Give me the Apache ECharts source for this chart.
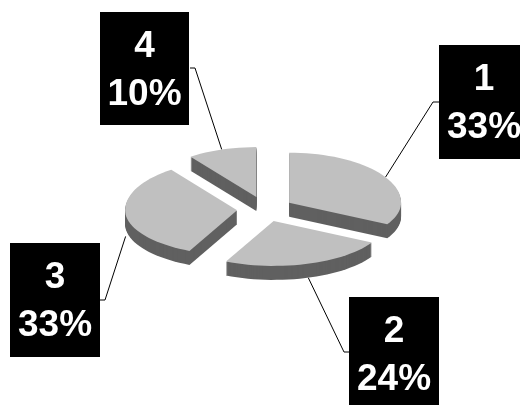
<!DOCTYPE html>
<html>
<head>
<meta charset="utf-8">
<style>html,body{margin:0;padding:0;background:#fff;overflow:hidden}#c{width:520px;height:405px}</style>
<script src="https://cdn.jsdelivr.net/npm/echarts@6/dist/echarts.min.js"></script>
</head>
<body>
<div id="c"></div>
<script>
var categories = ['1', '2', '3', '4'];
var values = [33, 24, 33, 10];

// Pie projection (layout only)
var CX = 265, CY = 209, RX = 112, RY_BACK = 50, RY_FRONT = 45, DEPTH = 14, EXPLODE = 0.25;
// Label boxes: [x, y, w, h]; leader runs from the box side with a short stub
var boxes = [[439, 45, 90, 114], [349, 297, 90, 114], [10, 243, 90, 114], [100, 12, 89, 113]];
var stubs = [[439, 102, 433, 102], [349, 352, 344, 352], [100, 300, 105, 300], [190, 68, 195, 68]];
var leaderExtra = [0, 0, 8, 0];

var total = values.reduce(function (a, b) { return a + b; }, 0);
var starts = [];
values.reduce(function (s, v, i) { starts[i] = s; return s + v; }, 0);

function project(deg, r) {
  var t = deg * Math.PI / 180, c = Math.cos(t);
  return [Math.sin(t) * RX * r, -c * (c < 0 ? RY_FRONT : RY_BACK) * r];
}

function renderItem(params, api) {
  var i = params.dataIndex;
  var v = api.value(0);
  var a0 = starts[i] / total * 360, a1 = a0 + v / total * 360, mid = (a0 + a1) / 2;
  var midT = mid * Math.PI / 180;
  var ox = CX + Math.sin(midT) * RX * EXPLODE;
  var oy = CY - Math.cos(midT) * RY_BACK * EXPLODE;
  var pts = [[ox, oy]];
  var n = Math.max(8, Math.round((a1 - a0) / 3));
  for (var k = 0; k <= n; k++) {
    var p = project(a0 + (a1 - a0) * k / n, 1);
    pts.push([ox + p[0], oy + p[1]]);
  }
  var children = [];
  // leader
  var edge = project(mid, 1);
  var wall = Math.cos(midT) < 0 ? DEPTH : 0;
  var s = stubs[i];
  children.push({
    type: 'polyline',
    shape: { points: [[s[0], s[1]], [s[2], s[3]], [ox + edge[0], oy + edge[1] + wall + leaderExtra[i]]] },
    style: { stroke: '#000', lineWidth: 1, fill: null }
  });
  // side wall: the face repeated downward, one pixel at a time
  for (var d = DEPTH; d >= 1; d--) {
    children.push({
      type: 'polygon',
      shape: { points: pts },
      x: 0, y: d,
      style: { fill: '#606060' }
    });
  }
  // top face
  children.push({ type: 'polygon', shape: { points: pts }, style: { fill: '#c0c0c0' } });
  // label
  var b = boxes[i];
  children.push({
    type: 'rect',
    shape: { x: b[0], y: b[1], width: b[2], height: b[3] },
    style: { fill: '#000' }
  });
  children.push({
    type: 'text',
    style: {
      text: categories[i] + '\n' + v + '%',
      x: b[0] + b[2] / 2, y: b[1] + b[3] / 2 + 2,
      align: 'center', verticalAlign: 'middle',
      fill: '#fff', font: 'bold 37px "Liberation Sans", Arial, sans-serif', lineHeight: 48
    }
  });
  return { type: 'group', children: children };
}

var chart = echarts.init(document.getElementById('c'), null, { renderer: 'canvas' });
chart.setOption({
  animation: false,
  backgroundColor: '#fff',
  series: [{
    type: 'custom',
    coordinateSystem: 'none',
    silent: true,
    renderItem: renderItem,
    data: values.map(function (v) { return [v]; })
  }]
});
</script>
</body>
</html>
